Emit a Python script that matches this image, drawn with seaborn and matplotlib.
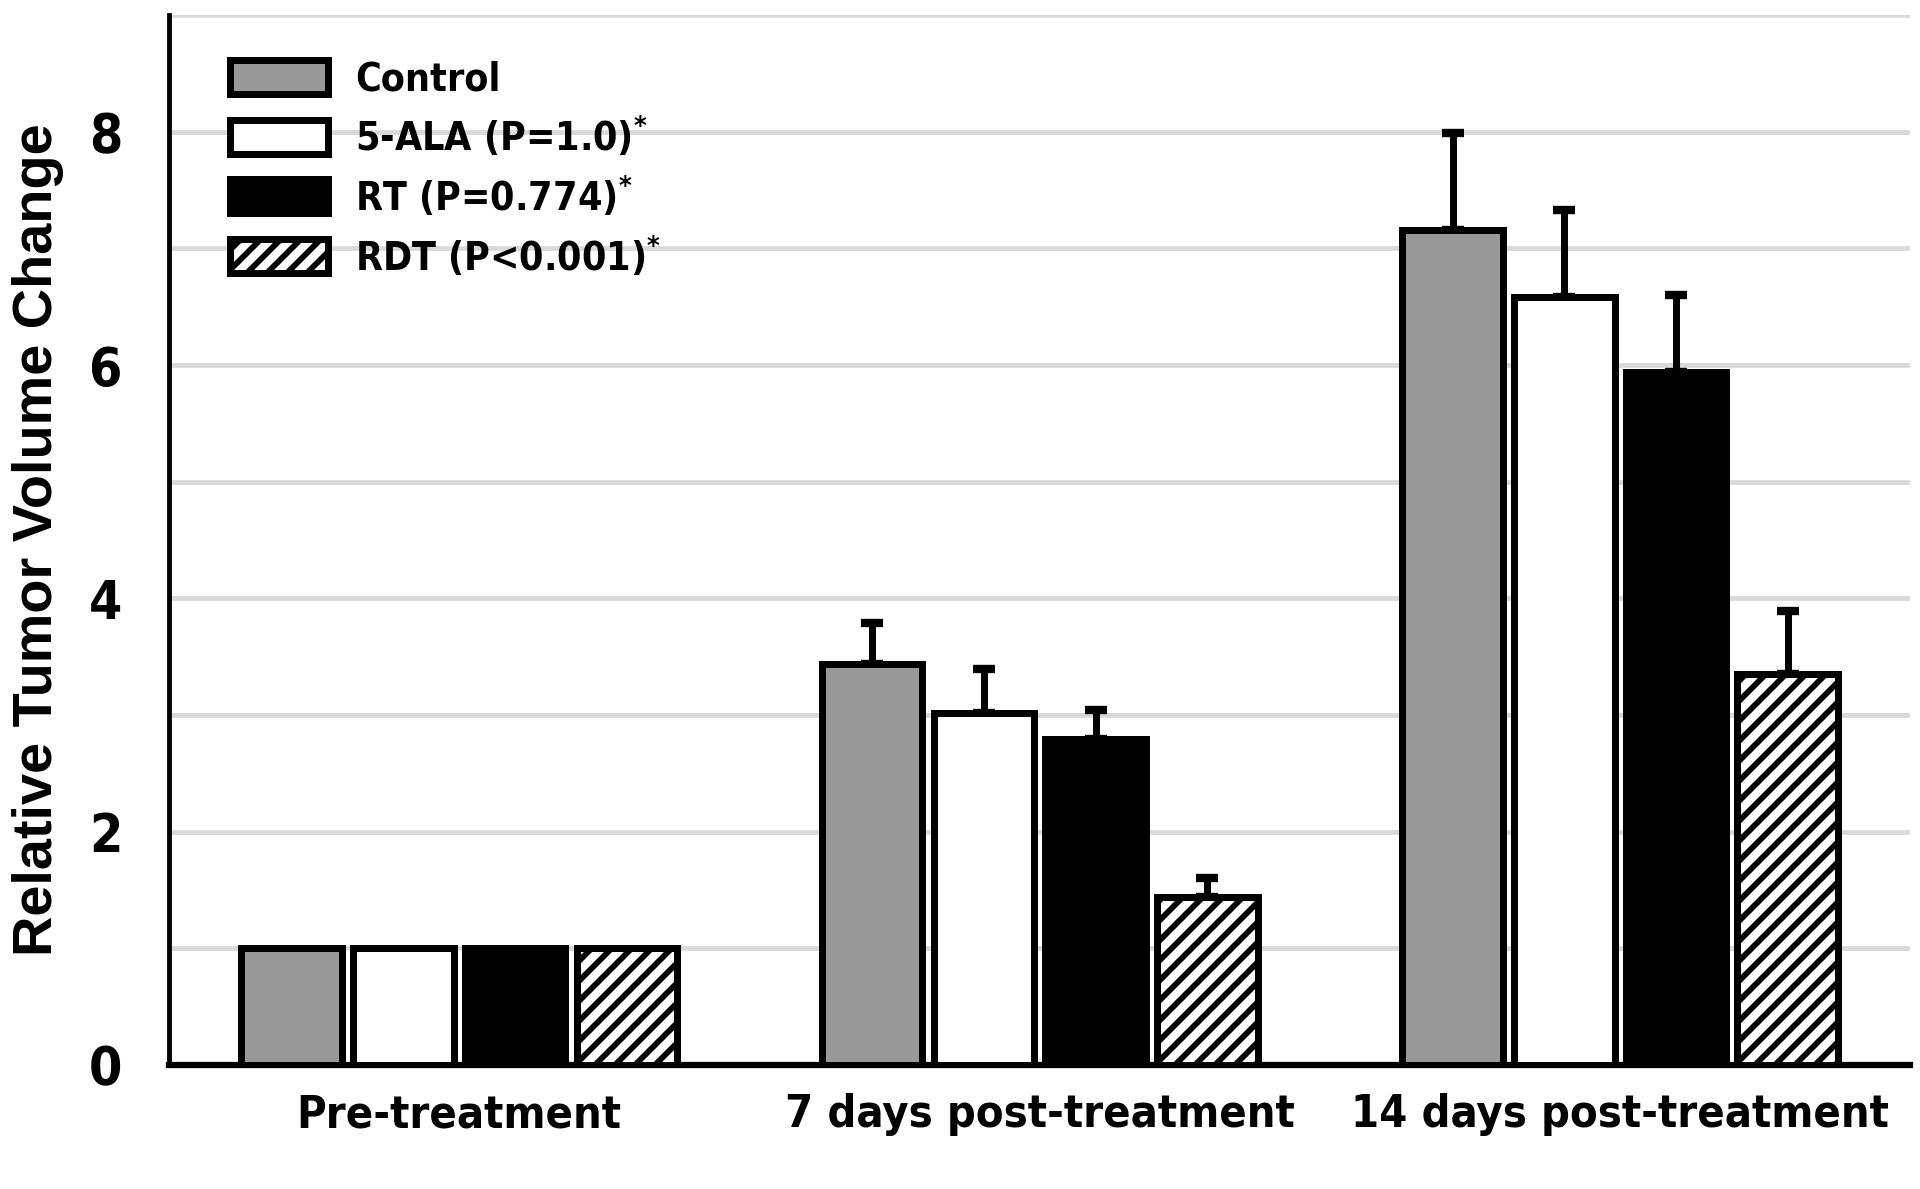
import matplotlib
matplotlib.use("Agg")
import matplotlib.pyplot as plt
from matplotlib.patches import Patch
import seaborn as sns
import numpy as np
import pandas as pd

# values
timepoints = ["Pre-treatment", "7 days post-treatment", "14 days post-treatment"]
groups = ["Control", "5-ALA", "RT", "RDT"]
legend_labels = [
    "Control",
    r"5-ALA (P=1.0)$^{\mathbf{*}}$",
    r"RT (P=0.774)$^{\mathbf{*}}$",
    r"RDT (P<0.001)$^{\mathbf{*}}$",
]
control_mean = [1.0, 3.44, 7.16]
ala_mean = [1.0, 3.02, 6.58]
rt_mean = [1.0, 2.79, 5.94]
rdt_mean = [1.0, 1.44, 3.35]
control_err = [0.0, 0.35, 0.83]
ala_err = [0.0, 0.37, 0.75]
rt_err = [0.0, 0.25, 0.66]
rdt_err = [0.0, 0.16, 0.54]

means = [control_mean, ala_mean, rt_mean, rdt_mean]
errs = [control_err, ala_err, rt_err, rdt_err]

df = pd.DataFrame(
    [(t, g, means[j][i]) for j, g in enumerate(groups) for i, t in enumerate(timepoints)],
    columns=["time", "group", "value"],
)

sns.set_style("white")
# condensed bold face stands in for the narrow font of the original
plt.rcParams["font.family"] = ["DejaVu Sans"]
plt.rcParams["font.stretch"] = "condensed"
plt.rcParams["font.weight"] = "bold"
plt.rcParams["hatch.linewidth"] = 3.5
plt.rcParams["mathtext.default"] = "bf"
for key in ["text.color", "axes.labelcolor", "xtick.color", "ytick.color"]:
    plt.rcParams[key] = "black"

fig = plt.figure(figsize=(16, 9.91), dpi=120)
ax = fig.add_axes([0.088, 0.1043, 0.907, 0.883])

colors = ["#999999", "white", "black", "white"]
sns.barplot(
    data=df,
    x="time",
    y="value",
    hue="group",
    order=timepoints,
    hue_order=groups,
    palette=colors,
    errorbar=None,
    width=0.77,
    gap=0.1,
    edgecolor="black",
    linewidth=4.2,
    saturation=1,
    legend=False,
    ax=ax,
    zorder=3,
)

# hatch the RDT bars
for bar in ax.containers[3]:
    bar.set_hatch("//")

# upper error bars only
for container, err in zip(ax.containers, errs):
    xs = np.array([b.get_x() + b.get_width() / 2 for b in container])
    ys = np.array([b.get_height() for b in container])
    e = np.array(err)
    mask = e > 0
    ax.errorbar(
        xs[mask],
        ys[mask],
        yerr=[np.zeros(mask.sum()), e[mask]],
        fmt="none",
        ecolor="black",
        elinewidth=4.2,
        capsize=6.7,
        capthick=5,
        zorder=2,
    )

ax.set_xlim(-0.5, 2.5)
ax.set_ylim(0, 9)
ax.set_yticks(range(0, 10, 2))
ax.set_yticks(range(1, 10), minor=True)
ax.grid(axis="y", which="both", color="#d9d9d9", linewidth=2.9, zorder=0)
ax.set_axisbelow(True)

ax.tick_params(axis="y", which="both", length=0, pad=28, labelsize=32)
ax.tick_params(axis="x", length=0, pad=17, labelsize=27)
ax.set_xlabel("")
ax.set_ylabel(
    "Relative Tumor Volume Change",
    fontsize=33.5,
    fontweight="bold",
    family=["Liberation Sans", "DejaVu Sans"],
    fontstretch="normal",
    labelpad=15,
)

for side in ["top", "right"]:
    ax.spines[side].set_visible(False)
ax.spines["left"].set_linewidth(2.9)
ax.spines["bottom"].set_linewidth(3.75)
ax.spines["left"].set_color("black")
ax.spines["bottom"].set_color("black")

handles = [
    Patch(facecolor=c, edgecolor="black", linewidth=4.2, hatch=("//" if g == "RDT" else None))
    for c, g in zip(colors, groups)
]
ax.legend(
    handles,
    legend_labels,
    loc="upper left",
    bbox_to_anchor=(0.035, 0.957),
    borderaxespad=0,
    borderpad=0,
    frameon=False,
    fontsize=23.5,
    handlelength=2.5,
    handleheight=0.95,
    handletextpad=0.7,
    labelspacing=0.40,
)

fig.savefig("out.png", dpi=120)
